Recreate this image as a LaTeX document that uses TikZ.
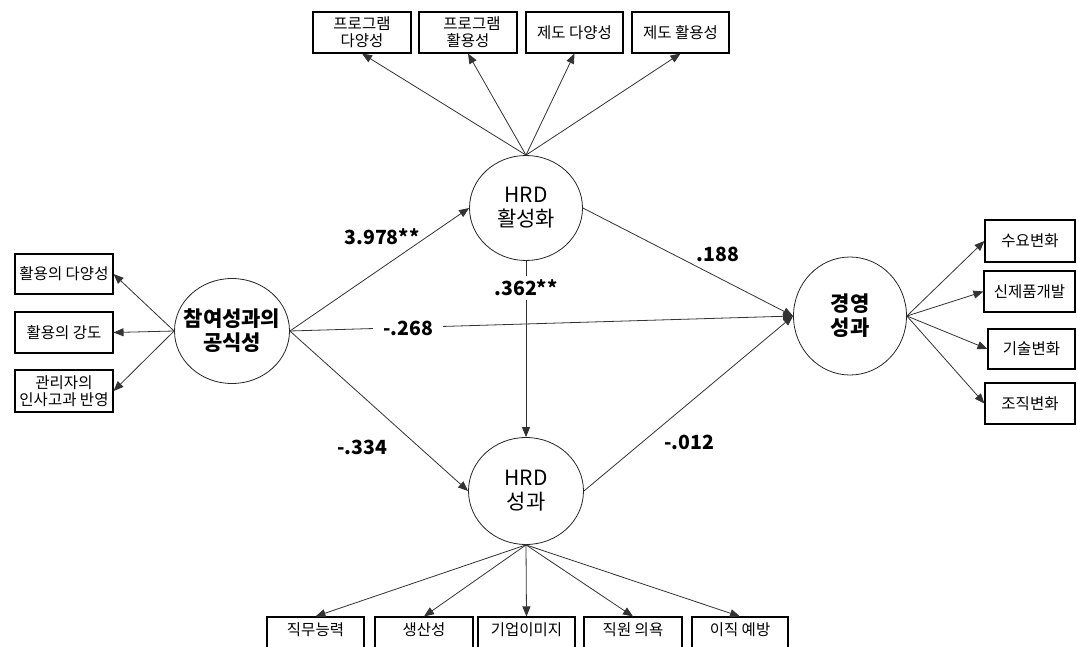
\documentclass[tikz,border=0pt]{standalone}
\usepackage{fontspec}
\setmainfont{Noto Sans CJK KR}
\usetikzlibrary{arrows.meta,shapes.geometric}
\tikzset{
  boxfont/.style={font=\fontsize{15.5}{17}\selectfont},
  box/.style={draw=black, line width=1.1pt, rectangle, inner sep=0pt, align=center, boxfont},
  lat/.style={draw=black!85, line width=0.8pt, ellipse, inner sep=0pt, align=center,
    font=\fontsize{21}{24}\selectfont},
  latb/.style={lat, font=\fontsize{21}{24}\selectfont\bfseries},
  arr/.style={draw=black!80, line width=0.8pt, -{Triangle[length=10pt,width=8pt]}},
  coef/.style={font=\fontsize{19.5}{21}\selectfont\bfseries, inner sep=1pt},
  btxt/.style={label={[anchor=north,yshift=-3pt,boxfont]north:#1}}
}
\newcommand{\zw}[1]{\makebox[0pt]{#1}}
\begin{document}
\begin{tikzpicture}[x=1pt,y=-1pt]
\useasboundingbox (0,0) rectangle (1077,646);
\clip (0,0) rectangle (1077,646);
\fill[white] (0,0) rectangle (1077,646);
% latent variables
\node[lat, minimum width=113pt, minimum height=105pt] (act) at (526,208) {\zw{HRD}\\\zw{활성화}};
\node[lat, minimum width=115pt, minimum height=107pt] (perf) at (526,491) {\zw{HRD}\\\zw{성과}};
\node[latb, minimum width=115pt, minimum height=105pt] (part) at (232,331) {\zw{참여성과의}\\\zw{공식성}};
\node[latb, minimum width=113pt, minimum height=118pt] (mgmt) at (850,316) {\zw{경영}\\\zw{성과}};
% top boxes
\node[box, minimum width=98pt, minimum height=41pt] (t1) at (362,32.5) {프로그램\\다양성};
\node[box, minimum width=98pt, minimum height=41pt] (t2) at (468,32.5) {\hspace*{8pt}프로그램\\활용성};
\node[box, minimum width=97pt, minimum height=41pt] (t3) at (574.5,32.5) {제도 다양성};
\node[box, minimum width=97pt, minimum height=41pt] (t4) at (680.5,32.5) {제도 활용성};
% left boxes
\node[box, minimum width=98pt, minimum height=40pt] (l1) at (64,274) {활용의 다양성};
\node[box, minimum width=98pt, minimum height=41pt] (l2) at (64,332.5) {활용의 강도};
\node[box, minimum width=98pt, minimum height=42pt] (l3) at (64,391) {관리자의\\인사고과 반영};
% right boxes
\node[box, minimum width=90pt, minimum height=42pt] (r1) at (1030,241) {수요변화};
\node[box, minimum width=91pt, minimum height=41pt] (r2) at (1029.5,291.5) {신제품개발};
\node[box, minimum width=87pt, minimum height=40pt] (r3) at (1031.5,349) {기술변화};
\node[box, minimum width=90pt, minimum height=41pt] (r4) at (1030,403.5) {조직변화};
% bottom boxes (cut off by the page edge)
\node[box, minimum width=97pt, minimum height=43pt, btxt=직무능력] (b1) at (315.5,638.5) {};
\node[box, minimum width=98pt, minimum height=43pt, btxt=생산성] (b2) at (424,638.5) {};
\node[box, minimum width=97pt, minimum height=43pt, btxt=기업이미지] (b3) at (526.5,638.5) {};
\node[box, minimum width=98pt, minimum height=43pt, btxt=직원 의욕] (b4) at (633,638.5) {};
\node[box, minimum width=96pt, minimum height=43pt, btxt=이직 예방] (b5) at (740,638.5) {};
% measurement arrows
\foreach \b in {t1,t2,t3,t4} \draw[arr] (act.north) -- (\b.south);
\foreach \b in {l1,l2,l3} \draw[arr] (part.west) -- (\b.east);
\foreach \b in {r1,r2,r3,r4} \draw[arr] (mgmt.east) -- (\b.west);
\foreach \b in {b1,b2,b3,b4,b5} \draw[arr] (perf.south) -- (\b.north);
% structural paths
\draw[arr] (part.east) -- (act.west);
\draw[arr] (part.east) -- (mgmt.west);
\draw[arr] (part.east) -- (perf.west);
\draw[arr] (act.east) -- (mgmt.west);
\draw[arr] (perf.east) -- (mgmt.west);
\draw[arr] (act.south) -- (perf.north);
% coefficients
\node[coef] (c1) at (382,237) {3.978**};
\node[coef, fill=white, inner xsep=10pt] (c2) at (408,328) {-.268};
\node[coef] (c3) at (362,447) {-.334};
\node[coef] (c4) at (718,254) {.188};
\node[coef] (c5) at (689,442) {-.012};
\node[coef, fill=white, inner ysep=4pt] (c6) at (526,288) {.362**};
\end{tikzpicture}
\end{document}
